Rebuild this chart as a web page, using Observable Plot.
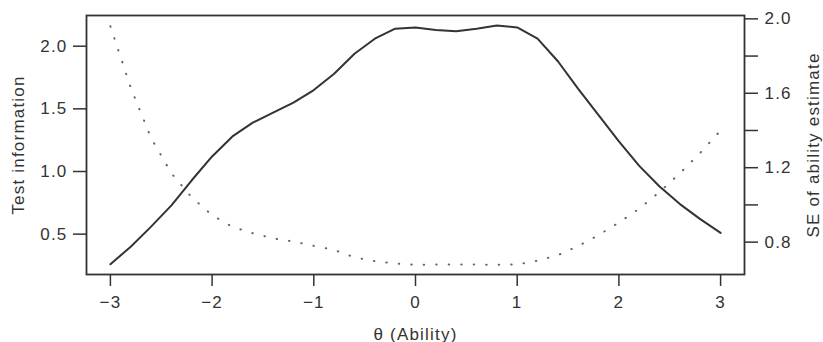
<!DOCTYPE html>
<html>
<head>
<meta charset="utf-8">
<script src="https://cdn.jsdelivr.net/npm/d3@7"></script>
<script src="https://cdn.jsdelivr.net/npm/@observablehq/plot@0.6"></script>
<style>
  html, body { margin: 0; padding: 0; background: #fff; }
  #wrap { position: relative; width: 823px; height: 342px; }
  #wrap svg { position: absolute; left: 0; top: 0; background: transparent; }
</style>
</head>
<body>
<div id="wrap"></div>
<script>
// θ (Ability) grid
const theta = [-3.0,-2.8,-2.6,-2.4,-2.2,-2.0,-1.8,-1.6,-1.4,-1.2,-1.0,-0.8,-0.6,-0.4,-0.2,0.0,0.2,0.4,0.6,0.8,1.0,1.2,1.4,1.6,1.8,2.0,2.2,2.4,2.6,2.8,3.0];
// Test information (left axis, solid line)
const testInfo = [0.26,0.40,0.56,0.73,0.93,1.12,1.28,1.39,1.47,1.55,1.65,1.78,1.94,2.06,2.14,2.15,2.13,2.12,2.14,2.165,2.15,2.06,1.88,1.66,1.45,1.24,1.045,0.88,0.74,0.62,0.51];
// SE of ability estimate (right axis, dotted line)
const seAbility = [1.96,1.63,1.36,1.17,1.04,0.945,0.882,0.848,0.82,0.803,0.78,0.758,0.718,0.698,0.685,0.678,0.68,0.68,0.68,0.678,0.68,0.70,0.73,0.779,0.838,0.905,0.98,1.07,1.17,1.28,1.40];
const xTicks = [-3,-2,-1,0,1,2,3];
const leftTicks = [0.5,1.0,1.5,2.0];
const rightTicks = [0.8,1.0,1.2,1.4,1.6,1.8,2.0];
const rightLabeled = [0.8,1.2,1.6,2.0];

const infoData = theta.map((t,i) => ({theta: t, v: testInfo[i]}));
const seData = theta.map((t,i) => ({theta: t, v: seAbility[i]}));

const W = 823, H = 342;
const margins = {marginLeft: 86, marginRight: 79, marginTop: 15, marginBottom: 68};
const style = {fontFamily: "'Liberation Sans', Arial, sans-serif", fontSize: "17px", letterSpacing: "1.2px", color: "#333", background: "transparent", overflow: "visible"};
const xDomain = [-3.235, 3.235];

const p1 = Plot.plot({
  width: W, height: H, ...margins, style,
  x: {domain: xDomain},
  y: {domain: [0.178, 2.245]},
  marks: [
    Plot.axisX({ticks: xTicks, tickSize: 12, tickPadding: 9, tickFormat: d => d < 0 ? "\u2212" + Math.abs(d) : String(d),
      label: "θ (Ability)", labelAnchor: "center", labelArrow: "none", labelOffset: 65, strokeWidth: 1.5}),
    Plot.axisY({ticks: leftTicks, tickSize: 13, tickPadding: 6, tickFormat: d3.format(".1f"),
      label: "Test information", labelAnchor: "center", labelArrow: "none", labelOffset: 75, strokeWidth: 1.5}),
    Plot.frame({stroke: "#333", strokeWidth: 1.8}),
    Plot.line(infoData, {x: "theta", y: "v", stroke: "#333", strokeWidth: 2})
  ]
});

const p2 = Plot.plot({
  width: W, height: H, ...margins, style,
  x: {domain: xDomain, axis: null},
  y: {domain: [0.626, 2.018], axis: null},
  marks: [
    Plot.axisY({anchor: "right", ticks: rightTicks, tickSize: 13, tickPadding: 7,
      tickFormat: d => rightLabeled.some(r => Math.abs(r - d) < 1e-9) ? d3.format(".1f")(d) : "",
      label: "SE of ability estimate", labelAnchor: "center", labelArrow: "none", labelOffset: 74, strokeWidth: 1.5}),
    Plot.line(seData, {x: "theta", y: "v", stroke: "#666", strokeWidth: 2, strokeDasharray: "0.5,12", strokeLinecap: "round"})
  ]
});

document.getElementById("wrap").append(p1, p2);
</script>
</body>
</html>
